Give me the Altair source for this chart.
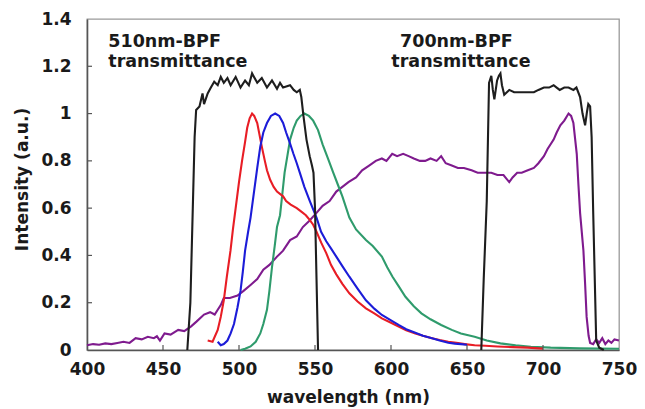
import altair as alt
import pandas as pd

# ---- data (wavelength nm, intensity a.u.) ----
bpf510 = [(466, 0), (468, 0.2), (469.6, 0.6), (470.8, 0.9), (471.8, 1.015), (474, 1.03),
          (476, 1.085), (477, 1.04), (479.4, 1.085), (481.5, 1.11), (483.7, 1.135),
          (486, 1.12), (488, 1.155), (490, 1.13), (492.4, 1.15), (494.5, 1.12),
          (497.8, 1.155), (501, 1.11), (504, 1.14), (506.5, 1.12), (508.6, 1.17),
          (512, 1.13), (515, 1.15), (518.4, 1.11), (521.7, 1.14), (525, 1.105),
          (527, 1.13), (529, 1.11), (533.6, 1.12), (536, 1.10), (538, 1.09), (540, 1.10),
          (541, 1.07), (542.4, 0.99), (544.4, 0.89), (546.5, 0.82), (548, 0.78),
          (549, 0.75), (550, 0.60), (551, 0.30), (552, 0.0)]

bpf700 = [(659.4, 0), (661, 0.3), (663, 0.63), (664.5, 1.13), (666, 1.16), (667, 1.10),
          (668, 1.06), (669.8, 1.14), (671, 1.16), (672, 1.17), (673, 1.12), (674.5, 1.08),
          (677.8, 1.10), (681, 1.09), (685, 1.09), (690, 1.09), (694, 1.09), (697, 1.10),
          (700.6, 1.11), (704, 1.11), (707, 1.12), (709, 1.11), (711, 1.10), (714, 1.11),
          (716.8, 1.11), (720, 1.10), (722, 1.11), (724.4, 1.07), (726, 1.00),
          (727.7, 0.95), (729, 1.01), (729.8, 1.04), (731, 1.03), (732, 0.90),
          (733, 0.59), (735, 0.04), (737, 0.01), (740, 0.0)]

red = [(479.4, 0.04), (482.6, 0.035), (486, 0.085), (488, 0.14), (490, 0.21), (492, 0.31),
       (494.4, 0.42), (496, 0.51), (497.8, 0.60), (500, 0.71), (502, 0.80), (504, 0.88),
       (505.4, 0.94), (507, 0.98), (508.6, 1.00), (510, 0.99), (512, 0.96), (513.5, 0.91),
       (515, 0.86), (517, 0.80), (518.4, 0.76), (520.5, 0.72), (522.8, 0.69), (525, 0.67),
       (529, 0.65), (531, 0.63), (534, 0.615), (538, 0.60), (541, 0.585), (544, 0.57),
       (546.5, 0.55), (548.8, 0.53), (551, 0.50), (554, 0.455), (557.4, 0.41),
       (560.5, 0.36), (564, 0.32), (568, 0.28), (572.6, 0.24), (578, 0.205),
       (583.5, 0.176), (589, 0.155), (594, 0.134), (600, 0.115), (605, 0.099),
       (610, 0.083), (616, 0.07), (621, 0.06), (627, 0.05), (632, 0.042), (637.7, 0.035),
       (643, 0.03), (648.5, 0.025), (655, 0.02), (662, 0.018), (670, 0.015), (680, 0.012),
       (690, 0.01), (700, 0.006)]

blue = [(486, 0.035), (488, 0.02), (490, 0.025), (492.4, 0.04), (494.5, 0.07), (496.7, 0.11),
        (499, 0.18), (501, 0.25), (502.5, 0.33), (504, 0.42), (506, 0.50), (507.6, 0.56),
        (509.7, 0.66), (512, 0.77), (514, 0.86), (516, 0.92), (518.4, 0.96), (521, 0.99),
        (523.8, 1.00), (526.5, 0.99), (529, 0.96), (531, 0.92), (533.5, 0.875),
        (535.8, 0.83), (538, 0.79), (540, 0.75), (543, 0.69), (546.6, 0.63), (551, 0.56),
        (554, 0.50), (557.4, 0.46), (560.5, 0.43), (564, 0.395), (568, 0.355),
        (572.6, 0.31), (578, 0.26), (583.5, 0.21), (589, 0.175), (594, 0.148),
        (600, 0.125), (605, 0.106), (610, 0.088), (616, 0.073), (621, 0.06), (627, 0.05),
        (632, 0.04), (637.7, 0.031), (642, 0.027), (646, 0.025), (650, 0.022)]

green = [(501, 0), (504, 0.005), (507.6, 0.015), (511, 0.035), (514, 0.07), (516, 0.11),
         (518.4, 0.17), (520, 0.25), (521.7, 0.35), (523.5, 0.44), (525, 0.52), (527, 0.57),
         (528, 0.63), (530, 0.75), (531.8, 0.82), (533.6, 0.89), (536, 0.94), (538, 0.97),
         (540.5, 0.99), (543, 1.00), (546, 0.99), (548.8, 0.97), (552, 0.93), (555, 0.87),
         (558.5, 0.81), (562, 0.75), (565, 0.70), (568, 0.65), (572.6, 0.56), (577, 0.51),
         (583.5, 0.465), (588, 0.44), (594, 0.395), (597.5, 0.35), (601, 0.31),
         (605, 0.27), (609.5, 0.225), (615, 0.185), (620, 0.155), (626, 0.13),
         (633, 0.106), (640, 0.085), (646, 0.07), (655, 0.056), (663, 0.04), (672, 0.028),
         (682, 0.02), (692, 0.014), (705, 0.01), (724, 0.007), (750, 0.005)]

purple = [(400, 0.02), (404, 0.025), (408, 0.022), (412, 0.028), (416, 0.025), (420, 0.03),
          (424, 0.035), (428, 0.03), (432, 0.05), (436, 0.045), (440, 0.056), (444, 0.05),
          (446, 0.058), (448, 0.04), (451, 0.07), (455, 0.065), (460, 0.085), (464, 0.08),
          (468.5, 0.10), (472, 0.12), (477, 0.15), (481, 0.16), (484, 0.15), (486, 0.17),
          (488, 0.19), (490, 0.22), (494, 0.22), (499, 0.23), (503, 0.25), (507.6, 0.275),
          (512, 0.30), (516, 0.34), (520, 0.36), (525, 0.395), (529, 0.42), (533.6, 0.465),
          (538, 0.48), (542, 0.52), (546, 0.545), (551, 0.58), (555, 0.61), (559.6, 0.63),
          (564, 0.67), (568, 0.69), (572, 0.71), (577, 0.73), (581, 0.76), (585.6, 0.78),
          (590, 0.80), (594, 0.81), (597, 0.80), (600.8, 0.83), (604, 0.82), (608, 0.83),
          (611.6, 0.82), (615, 0.81), (619, 0.80), (622.5, 0.80), (626, 0.81), (630, 0.80),
          (633, 0.82), (636, 0.79), (640, 0.78), (644, 0.77), (648, 0.77), (653, 0.76),
          (657, 0.75), (661.5, 0.75), (666, 0.75), (670, 0.74), (674, 0.74), (677.8, 0.71),
          (680, 0.73), (683, 0.75), (686, 0.75), (690, 0.76), (694, 0.77), (697, 0.79),
          (700.6, 0.82), (703, 0.85), (707, 0.89), (709, 0.92), (711.4, 0.95), (714, 0.97),
          (716.8, 1.00), (718.5, 0.99), (720, 0.96), (721, 0.90), (722.2, 0.83),
          (723.3, 0.70), (724.4, 0.58), (725.5, 0.50), (726.6, 0.42), (727.7, 0.28),
          (728.7, 0.14), (730, 0.06), (731, 0.03), (733, 0.025), (735, 0.045), (737, 0.03),
          (739, 0.05), (741, 0.025), (743, 0.04), (745, 0.03), (747, 0.045), (750, 0.04)]

x_ticks = [400, 450, 500, 550, 600, 650, 700, 750]
y_ticks = [0, 0.2, 0.4, 0.6, 0.8, 1.0, 1.2, 1.4]

left_labels = ["510nm-BPF", "transmittance"]
right_labels = ["700nm-BPF", "transmittance"]

FONT = "DejaVu Sans"
W, H = 532, 331

xs = alt.Scale(domain=[400, 750], nice=False, zero=False)
ys = alt.Scale(domain=[0, 1.4], nice=False, zero=False)

x_axis = alt.Axis(values=x_ticks, ticks=False, grid=False, labelPadding=11, labelFlush=False,
                  title="wavelength (nm)", titleX=261, titleY=52,
                  titleBaseline="alphabetic", titleAlign="center")
y_axis = alt.Axis(values=y_ticks, ticks=False, grid=False, labelPadding=16, labelFlush=False,
                  format="~g",
                  title="Intensity (a.u.)", titleX=-60, titleY=160,
                  titleBaseline="alphabetic", titleAlign="center", titleAngle=-90)


def series(points, color):
    df = pd.DataFrame(points, columns=["wl", "v"])
    return alt.Chart(df).mark_line(color=color, strokeWidth=2.1, interpolate="linear").encode(
        x=alt.X("wl:Q", scale=xs, axis=x_axis),
        y=alt.Y("v:Q", scale=ys, axis=y_axis),
        order=alt.Order("wl:Q"),
    )


layers = [
    series(purple, "#7f1b8e"),
    series(green, "#2f9b6c"),
    series(red, "#e81d25"),
    series(blue, "#1c1cd8"),
    series(bpf510, "#1e1e1e"),
    series(bpf700, "#1e1e1e"),
]

# inward tick marks
xt = alt.Chart(pd.DataFrame({"t": x_ticks[1:-1]})).mark_rule(color="#555", strokeWidth=1.2).encode(
    x=alt.X("t:Q", scale=xs), y=alt.value(H), y2=alt.value(H - 5))
yt = alt.Chart(pd.DataFrame({"t": y_ticks[1:-1]})).mark_rule(color="#555", strokeWidth=1.2).encode(
    y=alt.Y("t:Q", scale=ys), x=alt.value(0), x2=alt.value(5))

# annotations
ann_left = pd.DataFrame({"wl": [414, 414], "v": [1.282, 1.197], "txt": left_labels})
ann_right = pd.DataFrame({"wl": [643, 646], "v": [1.282, 1.197], "txt": right_labels})
tl = alt.Chart(ann_left).mark_text(align="left", baseline="alphabetic", font=FONT,
                                   fontWeight="bold", fontSize=17.5, color="#1a1a1a").encode(
    x=alt.X("wl:Q", scale=xs), y=alt.Y("v:Q", scale=ys), text="txt:N")
tr = alt.Chart(ann_right).mark_text(align="center", baseline="alphabetic", font=FONT,
                                    fontWeight="bold", fontSize=17.5, color="#1a1a1a").encode(
    x=alt.X("wl:Q", scale=xs), y=alt.Y("v:Q", scale=ys), text="txt:N")

chart = alt.layer(*layers, xt, yt, tl, tr).properties(
    width=W, height=H,
    autosize=alt.AutoSizeParams(type="none"),
    padding={"left": 79, "top": 11, "right": 18, "bottom": 58},
).configure_view(
    stroke="#9a9a9a", strokeWidth=1.3
).configure_axis(
    domainColor="#555", domainWidth=1.6,
    labelFont=FONT, labelFontWeight="bold", labelFontSize=17, labelColor="#1a1a1a",
    titleFont=FONT, titleFontWeight="bold", titleFontSize=17, titleColor="#1a1a1a",
)

chart.save("out.html", embed_options={"renderer": "svg", "actions": False})
